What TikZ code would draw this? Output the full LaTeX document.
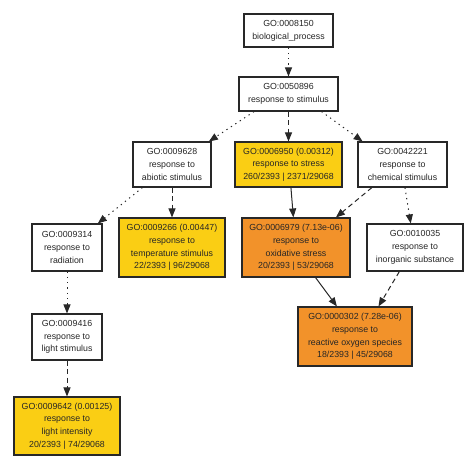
\documentclass[tikz,border=0pt]{standalone}
\usepackage{fontspec}
\setmainfont{Liberation Sans}
\usepackage{tikz}
\usetikzlibrary{arrows.meta}
\usepackage{xcolor}
\definecolor{goyellow}{RGB}{250,206,20}
\definecolor{goorange}{RGB}{242,146,42}
\definecolor{goline}{RGB}{40,40,40}

\begin{document}
\begin{tikzpicture}[x=1pt,y=-1pt]
  \tikzset{term/.style = {shape=rectangle,draw=goline,line width=1.1pt,align=center,inner sep=0pt,text=black!85,font=\fontsize{8.8}{12.7}\selectfont}}
    \tikzset{wterm/.style = {term,fill=white}}
    \tikzset{yterm/.style = {term,fill=goyellow}}
    \tikzset{oterm/.style = {term,fill=goorange}}
  \tikzset{%
  tipA/.tip={Triangle[length=9pt,width=7pt]},
}
  \tikzset{dotedge/.style = {-tipA,line width=1pt,goline,dash pattern=on 1.3pt off 4pt}}
  \tikzset{dashedge/.style = {-tipA,line width=1pt,goline,dash pattern=on 5pt off 3.5pt}}
  \tikzset{solidedge/.style = {-tipA,line width=1pt,goline}}

  \useasboundingbox (0,0) rectangle (474,473);

	\node[wterm,minimum width=89pt,minimum height=33pt] (bp) at (288.5,30.5) {GO:0008150\\biological\_process};
	\node[wterm,minimum width=99pt,minimum height=34pt] (rs) at (288.5,94) {GO:0050896\\response to stimulus};

	\node[wterm,minimum width=78pt,minimum height=45pt] (ab) at (172,164.5) {GO:0009628\\response to\\abiotic stimulus};
	\node[yterm,minimum width=107pt,minimum height=45pt] (st) at (288.5,164.5) {GO:0006950 (0.00312)\\response to stress\\260/2393 | 2371/29068};
	\node[wterm,minimum width=89pt,minimum height=45pt] (ch) at (402.5,164.5) {GO:0042221\\response to\\chemical stimulus};

	\node[wterm,minimum width=70pt,minimum height=47pt] (ra) at (67,247.5) {GO:0009314\\response to\\radiation};
	\node[yterm,minimum width=106pt,minimum height=59pt] (te) at (172,247.5) {GO:0009266 (0.00447)\\response to\\temperature stimulus\\22/2393 | 96/29068};
	\node[oterm,minimum width=108pt,minimum height=59pt] (ox) at (296,247.5) {GO:0006979 (7.13e-06)\\response to\\oxidative stress\\20/2393 | 53/29068};
	\node[wterm,minimum width=96pt,minimum height=47pt] (in) at (415,247.5) {GO:0010035\\response to\\inorganic substance};

	\node[wterm,minimum width=70pt,minimum height=46pt] (ls) at (67,337) {GO:0009416\\response to\\light stimulus};
	\node[oterm,minimum width=114pt,minimum height=59pt] (ro) at (355,336.5) {GO:0000302 (7.28e-06)\\response to\\reactive oxygen species\\18/2393 | 45/29068};

	\node[yterm,minimum width=106pt,minimum height=58pt] (li) at (67,426) {GO:0009642 (0.00125)\\response to\\light intensity\\20/2393 | 74/29068};

    \foreach \from/\to in {bp.south/rs.north, rs.-153/ab.32, rs.-28/ch.150, ab.-142/ra.38, ch.-84/in.100, ra.south/ls.north}
    \path[dotedge](\from) edge (\to);

    \foreach \from/\to in {rs.south/st.north, ab.south/te.north, ch.-143/ox.37, in.-123/ro.52, ls.south/li.north}
    \path[dashedge](\from) edge (\to);

    \foreach \from/\to in {st.-84/ox.95, ox.-57/ro.121}
    \path[solidedge](\from) edge (\to);

\end{tikzpicture}
\end{document}
